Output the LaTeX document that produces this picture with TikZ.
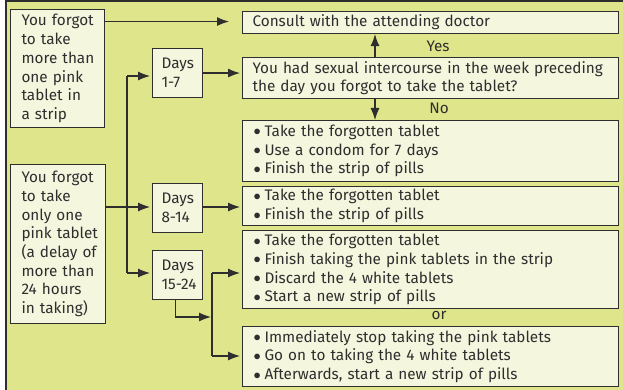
\documentclass[tikz,border=0pt]{standalone}
\usepackage{fontspec}
\setmainfont{Fira Sans}
\usepackage{xcolor}
\usetikzlibrary{arrows.meta}

\definecolor{panelgreen}{HTML}{DFE58A}
\definecolor{boxcream}{HTML}{F4F6DE}
\definecolor{inkgrey}{HTML}{2E2E2E}

\hyphenpenalty=10000
\newcommand{\bl}{\makebox[11pt][l]{\raisebox{0.5pt}{$\bullet$}}}
\newcommand{\ind}{\hspace*{11pt}}

\tikzset{
  box/.style={draw=inkgrey, fill=boxcream, line width=1.1pt, anchor=north west,
    inner xsep=0pt, inner ysep=0pt, align=left,
    font=\fontsize{15.3}{18.7}\selectfont, text=inkgrey},
  arr/.style={-{Latex[length=12pt,width=9pt]}, draw=inkgrey, line width=1.1pt},
  wire/.style={draw=inkgrey, line width=1.1pt},
  lab/.style={font=\fontsize{15.3}{18.7}\selectfont, text=inkgrey, inner sep=0pt}
}

\begin{document}
\begin{tikzpicture}[x=1pt,y=-1pt]

% page and panel
\useasboundingbox (0,0) rectangle (623,390);
\fill[white] (0,0) rectangle (623,390);
\fill[panelgreen] (6,1) rectangle (623,390);
\draw[inkgrey, line width=1.5pt] (623,1) -- (6,1) -- (6,390);

% left hand cases
\node[box, minimum width=94pt, minimum height=118pt, text width=94pt] (forgotmore) at (10,9)
  {\ind You forgot\\\ind to take\\\ind more than\\\ind one pink\\\ind tablet in\\\ind a strip};
\node[box, minimum width=95pt, minimum height=159pt, text width=95pt] (forgotone) at (10,164)
  {\ind You forgot\\\ind to take\\\ind only one\\\ind pink tablet\\\ind (a delay of\\\ind more than\\\ind 24 hours\\\ind in taking)};

% day ranges
\node[box, minimum width=50pt, minimum height=49pt, text width=50pt] (days17) at (152,48)
  {\hspace*{9pt}Days\\\hspace*{9pt}1-7};
\node[box, minimum width=50pt, minimum height=49pt, text width=50pt] (days814) at (152,183)
  {\hspace*{9pt}Days\\\hspace*{9pt}8-14};
\node[box, minimum width=50pt, minimum height=49pt, text width=50pt] (days1524) at (152,250)
  {\hspace*{9pt}Days\\\hspace*{9pt}15-24};

% right hand advice
\node[box, minimum width=376pt, minimum height=22pt, text width=376pt] (consult) at (242,11)
  {\hspace*{10pt}Consult with the attending doctor};
\node[box, minimum width=376pt, minimum height=41pt, text width=376pt] (question) at (242,57)
  {\hspace*{10pt}You had sexual intercourse in the week preceding\\\hspace*{10pt}the day you forgot to take the tablet?};
\node[box, minimum width=376pt, minimum height=61pt, text width=376pt] (nosex) at (242,120)
  {\ind\bl Take the forgotten tablet\\\ind\bl Use a condom for 7 days\\\ind\bl Finish the strip of pills};
\node[box, minimum width=376pt, minimum height=39pt, text width=376pt] (late) at (242,186)
  {\ind\bl Take the forgotten tablet\\\ind\bl Finish the strip of pills};
\node[box, minimum width=376pt, minimum height=78pt, text width=376pt] (restart) at (242,230)
  {\ind\bl Take the forgotten tablet\\\ind\bl Finish taking the pink tablets in the strip\\\ind\bl Discard the 4 white tablets\\\ind\bl Start a new strip of pills};
\node[box, minimum width=376pt, minimum height=60pt, text width=376pt] (switch) at (242,326)
  {\ind\bl Immediately stop taking the pink tablets\\\ind\bl Go on to taking the 4 white tablets\\\ind\bl Afterwards, start a new strip of pills};

% labels
\node[lab] (yes) at (438,46) {Yes};
\node[lab] (no) at (439,108) {No};
\node[lab] (or) at (439,315) {or};

% branch points
\coordinate (trunk) at (127,207);
\coordinate (trunktop) at (127,76);
\coordinate (trunkbot) at (127,273);
\coordinate (split) at (212,317);
\coordinate (splittop) at (212,273);
\coordinate (splitbot) at (212,356);
\coordinate (updown) at (375,0);

% connectors
\draw[arr, shorten >=13pt] ([yshift=1pt]consult.west -| forgotmore.east) -- ([yshift=1pt]consult.west);
\draw[arr, shorten >=2pt] (days17.east) -- (days17.east -| question.west);
\draw[arr] (updown |- question.north) -- (updown |- consult.south);
\draw[arr] (updown |- question.south) -- (updown |- nosex.north);
\draw[wire] (forgotone.east |- trunk) -- (trunk);
\draw[wire] (trunktop) -- (trunkbot);
\draw[arr, shorten >=2pt] (trunktop) -- (trunktop -| days17.west);
\draw[arr, shorten >=2pt] (trunk) -- (trunk -| days814.west);
\draw[arr, shorten >=2pt] (trunkbot) -- (trunkbot -| days1524.west);
\draw[arr, shorten >=2pt] (days814.east |- trunk) -- (trunk -| late.west);
\draw[arr, shorten >=1pt] ([xshift=-2pt]days1524.south) |- (split);
\draw[wire] (splittop) -- (splitbot);
\draw[arr, shorten >=2pt] (splittop) -- (splittop -| restart.west);
\draw[arr, shorten >=2pt] (splitbot) -- (splitbot -| switch.west);

\end{tikzpicture}
\end{document}
